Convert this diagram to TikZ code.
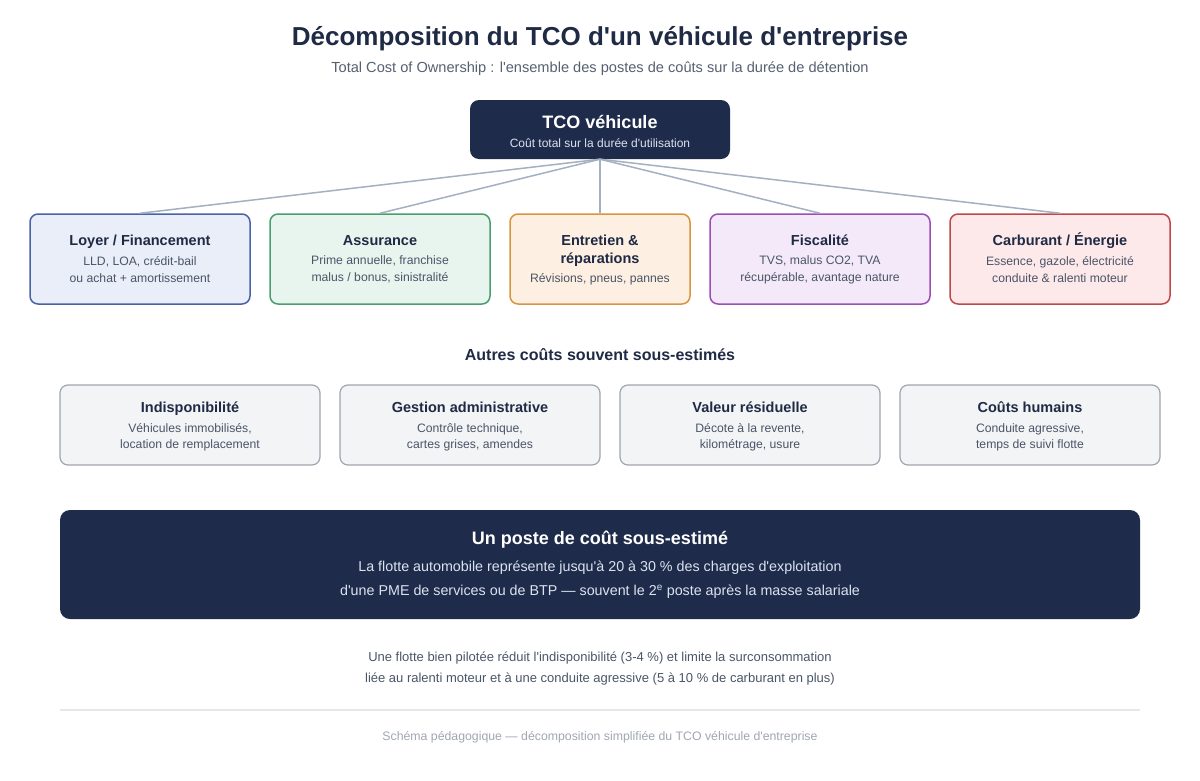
\documentclass[tikz,border=0pt]{standalone}
\usepackage{fontspec}
\setmainfont{Liberation Sans}[Ligatures=TeXOff]
\usepackage{xcolor}
\usetikzlibrary{positioning}

\definecolor{navy}{HTML}{1E2B4B}
\definecolor{ink}{HTML}{1F2A44}
\definecolor{txt}{HTML}{4A5568}
\definecolor{subtxt}{HTML}{566070}
\definecolor{linkc}{HTML}{A3B0C2}
\definecolor{bluebd}{HTML}{4C62A8}
\definecolor{bluebg}{HTML}{EAEEF8}
\definecolor{greenbd}{HTML}{4A9D6E}
\definecolor{greenbg}{HTML}{E8F5EE}
\definecolor{orangebd}{HTML}{D99341}
\definecolor{orangebg}{HTML}{FDEFE1}
\definecolor{purplebd}{HTML}{9B4DB8}
\definecolor{purplebg}{HTML}{F4E9F8}
\definecolor{redbd}{HTML}{C04848}
\definecolor{redbg}{HTML}{FDE9E9}
\definecolor{othbd}{HTML}{A0A4AC}
\definecolor{othbg}{HTML}{F3F4F6}
\definecolor{lighttxt}{HTML}{DCE3EF}
\definecolor{rulec}{HTML}{E5E7EB}
\definecolor{foot}{HTML}{A0A6B0}

\begin{document}
\begin{tikzpicture}[x=1pt,y=-1pt,
  cat/.style={draw,rounded corners=8pt,line width=1.5pt,minimum width=220pt,minimum height=90pt,inner sep=0pt},
  other/.style={draw=othbd,fill=othbg,rounded corners=8pt,line width=1.2pt,minimum width=260pt,minimum height=80pt,inner sep=0pt},
  dark/.style={fill=navy,rounded corners=9pt,inner sep=0pt},
  ttl/.style={font=\bfseries\fontsize{14.5}{18}\selectfont,text=ink,align=center,anchor=base},
  desc/.style={font=\fontsize{12.2}{17}\selectfont,text=txt,align=center},
  link/.style={draw=linkc,line width=1.5pt}
]
\useasboundingbox (0,0) rectangle (1200,780);

% titre
\node[font=\bfseries\fontsize{26}{30}\selectfont,text=ink] (title) at (600,39) {Décomposition du TCO d'un véhicule d'entreprise};
\node[font=\fontsize{14.6}{17}\selectfont,text=subtxt] (subtitle) at (600,69) {Total Cost of Ownership : l'ensemble des postes de coûts sur la durée de détention};

% racine
\node[dark,minimum width=260pt,minimum height=59pt] (tco) at (600,129.5) {};
\node[font=\bfseries\fontsize{18}{22}\selectfont,text=white] (tcottl) at (600,122) {TCO véhicule};
\node[font=\fontsize{12}{15}\selectfont,text=lighttxt] (tcodesc) at (600,143) {Coût total sur la durée d'utilisation};

% postes principaux
\node[cat,draw=bluebd,fill=bluebg] (loyer) at (140,259) {};
\node[cat,draw=greenbd,fill=greenbg] (assur) at (380,259) {};
\node[cat,draw=orangebd,fill=orangebg,minimum width=180pt] (entr) at (600,259) {};
\node[cat,draw=purplebd,fill=purplebg] (fisc) at (820,259) {};
\node[cat,draw=redbd,fill=redbg] (carb) at (1060,259) {};

\draw[link] (tco.south) -- (loyer.north);
\draw[link] (tco.south) -- (assur.north);
\draw[link] (tco.south) -- (entr.north);
\draw[link] (tco.south) -- (fisc.north);
\draw[link] (tco.south) -- (carb.north);

\node[ttl] (loyerttl) at (140,245) {Loyer / Financement};
\node[desc] (loyerdesc) at (140,269.5) {LLD, LOA, crédit-bail\\ou achat + amortissement};
\node[ttl] (assurttl) at (380,245) {Assurance};
\node[desc] (assurdesc) at (380,269.5) {Prime annuelle, franchise\\malus / bonus, sinistralité};
\node[ttl,anchor=center] (entrttl) at (600,251) {Entretien \&\\réparations};
\node[desc] (entrdesc) at (600,279) {Révisions, pneus, pannes};
\node[ttl] (fiscttl) at (820,245) {Fiscalité};
\node[desc] (fiscdesc) at (820,269.5) {TVS, malus CO2, TVA\\récupérable, avantage nature};
\node[ttl] (carbttl) at (1060,245) {Carburant / Énergie};
\node[desc] (carbdesc) at (1060,269.5) {Essence, gazole, électricité\\conduite \& ralenti moteur};

% autres couts
\node[font=\bfseries\fontsize{16}{18}\selectfont,text=ink] (autres) at (600,355) {Autres coûts souvent sous-estimés};

\node[other] (indispo) at (190,425) {};
\node[other] (gestion) at (470,425) {};
\node[other] (valeur) at (750,425) {};
\node[other] (humains) at (1030,425) {};

\node[ttl] (indispottl) at (190,412) {Indisponibilité};
\node[desc,font=\fontsize{12.2}{16}\selectfont] (indispodesc) at (190,437) {Véhicules immobilisés,\\location de remplacement};
\node[ttl] (gestionttl) at (470,412) {Gestion administrative};
\node[desc,font=\fontsize{12.2}{16}\selectfont] (gestiondesc) at (470,437) {Contrôle technique,\\cartes grises, amendes};
\node[ttl] (valeurttl) at (750,412) {Valeur résiduelle};
\node[desc,font=\fontsize{12.2}{16}\selectfont] (valeurdesc) at (750,437) {Décote à la revente,\\kilométrage, usure};
\node[ttl] (humainsttl) at (1030,412) {Coûts humains};
\node[desc,font=\fontsize{12.2}{16}\selectfont] (humainsdesc) at (1030,437) {Conduite agressive,\\temps de suivi flotte};

% encadre
\node[dark,rounded corners=10pt,minimum width=1080pt,minimum height=109pt] (poste) at (600,564.5) {};
\node[font=\bfseries\fontsize{18}{22}\selectfont,text=white] (postettl) at (600,540) {Un poste de coût sous-estimé};
\node[font=\fontsize{14.3}{24}\selectfont,text=lighttxt,align=center] (postedesc) at (600,580) {La flotte automobile représente jusqu'à 20 à 30 \% des charges d'exploitation\\d'une PME de services ou de BTP — souvent le 2\textsuperscript{e} poste après la masse salariale};

% note
\node[font=\fontsize{13}{21}\selectfont,text=txt,align=center] (note) at (600,668.5) {Une flotte bien pilotée réduit l'indisponibilité (3-4 \%) et limite la surconsommation\\liée au ralenti moteur et à une conduite agressive (5 à 10 \% de carburant en plus)};

\coordinate (rulel) at (60,710);
\coordinate (ruler) at (1140,710);
\draw[rulec,line width=1.5pt] (rulel) -- (ruler);

\node[font=\fontsize{12.3}{15}\selectfont,text=foot] (footer) at (600,737) {Schéma pédagogique — décomposition simplifiée du TCO véhicule d'entreprise};
\end{tikzpicture}
\end{document}
